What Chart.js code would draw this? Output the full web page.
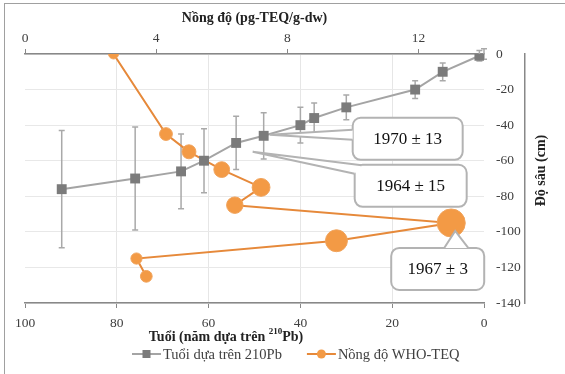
<!DOCTYPE html>
<html>
<head>
<meta charset="utf-8">
<script src="https://cdn.jsdelivr.net/npm/chart.js@4.4.1/dist/chart.umd.min.js"></script>
<style>
  html, body { margin: 0; padding: 0; background: #fff; }
  #wrap { position: relative; width: 565px; height: 374px; }
  #frame { position: absolute; left: 4px; top: 3px; right: 0; bottom: 0;
           border-top: 1.5px solid #a0a0a0; border-left: 1.5px solid #a0a0a0; }
  canvas { position: absolute; left: 0; top: 0; }
</style>
</head>
<body>
<div id="wrap"><div id="frame"></div><canvas id="chart" width="565" height="374"></canvas></div>
<script>
// Tuổi theo 210Pb (năm) vs độ sâu (cm), sai số theo độ sâu
const ageYears = [0, 1, 9, 15, 30, 37, 40, 48, 54, 61, 66, 76, 92];
const ageDepth = [0, -1, -10, -20, -30, -36, -40, -46, -50, -60, -66, -70, -76];
const ageErr = [3, 3, 5, 5, 7, 8.5, 10, 13, 15, 18, 21, 29, 33];

// Nồng độ WHO-TEQ (pg-TEQ/g-dw) vs độ sâu (cm)
const concValues = [2.7, 4.3, 5.0, 6.0, 7.2, 6.4, 13.0, 9.5, 3.4, 3.7];
const concDepth = [0, -45, -55, -65, -75, -85, -95, -105, -115, -125];

const ageTicks = [100, 80, 60, 40, 20, 0];
const concTicks = [0, 4, 8, 12];
const depthTicks = [0, -20, -40, -60, -80, -100, -120, -140];

const seriesNames = ['Tuổi dựa trên 210Pb', 'Nồng độ WHO-TEQ'];
const calloutTexts = ['1970 ± 13', '1964 ± 15', '1967 ± 3'];

const GRAY = '#7b7b7b';
const GRAY_LINE = '#a4a4a4';
const ORANGE = '#f39a45';
const ORANGE_LINE = '#e6893a';
const SERIF = "'Liberation Serif', 'Times New Roman', serif";

const errorBars = {
  id: 'errorBars',
  beforeDatasetsDraw(chart) {
    const { ctx, scales } = chart;
    ctx.save();
    ctx.strokeStyle = '#a9a9a9';
    ctx.lineWidth = 1.5;
    ageYears.forEach((a, i) => {
      const x = scales.x.getPixelForValue(a);
      const y1 = scales.y.getPixelForValue(ageDepth[i] + ageErr[i]);
      const y2 = scales.y.getPixelForValue(ageDepth[i] - ageErr[i]);
      ctx.beginPath();
      ctx.moveTo(x, y1); ctx.lineTo(x, y2);
      ctx.moveTo(x - 3, y1); ctx.lineTo(x + 3, y1);
      ctx.moveTo(x - 3, y2); ctx.lineTo(x + 3, y2);
      ctx.stroke();
    });
    ctx.restore();
  }
};

function roundRect(ctx, x, y, w, h, r) {
  ctx.beginPath();
  ctx.moveTo(x + r, y);
  ctx.lineTo(x + w - r, y); ctx.arcTo(x + w, y, x + w, y + r, r);
  ctx.lineTo(x + w, y + h - r); ctx.arcTo(x + w, y + h, x + w - r, y + h, r);
  ctx.lineTo(x + r, y + h); ctx.arcTo(x, y + h, x, y + h - r, r);
  ctx.lineTo(x, y + r); ctx.arcTo(x, y, x + r, y, r);
  ctx.closePath();
}

function drawCallout(ctx, tip, box, b1, b2, text) {
  ctx.save();
  ctx.fillStyle = '#fff';
  ctx.strokeStyle = '#b3b3b3';
  ctx.lineWidth = 2;
  roundRect(ctx, box.x, box.y, box.w, box.h, 8);
  ctx.fill(); ctx.stroke();
  ctx.beginPath();
  ctx.moveTo(b1.x, b1.y); ctx.lineTo(tip.x, tip.y); ctx.lineTo(b2.x, b2.y); ctx.closePath();
  ctx.fill();
  ctx.beginPath();
  ctx.moveTo(b1.x, b1.y); ctx.lineTo(tip.x, tip.y); ctx.lineTo(b2.x, b2.y);
  ctx.stroke();
  ctx.fillStyle = '#111';
  ctx.font = '17px ' + SERIF;
  ctx.textAlign = 'center';
  ctx.textBaseline = 'middle';
  ctx.fillText(text, box.x + box.w / 2, box.y + box.h / 2 + 1);
  ctx.restore();
}

const callouts = {
  id: 'callouts',
  afterDatasetsDraw(chart) {
    const { ctx, scales } = chart;
    const a = { x: scales.x.getPixelForValue(ageYears[7]), y: scales.y.getPixelForValue(ageDepth[7]) };
    const t1 = { x: a.x + 6, y: a.y - 1 };
    const bx1 = { x: t1.x + 83, y: t1.y - 17, w: 110, h: 42 };
    drawCallout(ctx, t1, bx1, { x: bx1.x, y: bx1.y + 12 }, { x: bx1.x, y: bx1.y + 22 }, calloutTexts[0]);

    const t2 = { x: a.x - 11, y: a.y + 16 };
    const bx2 = { x: t2.x + 102, y: t2.y + 13, w: 112, h: 42 };
    drawCallout(ctx, t2, bx2, { x: bx2.x + 7, y: bx2.y + 0.5 }, { x: bx2.x, y: bx2.y + 9 }, calloutTexts[1]);

    const b = { x: scales.x2.getPixelForValue(concValues[6]), y: scales.y.getPixelForValue(concDepth[6]) };
    const t3 = { x: b.x + 4, y: b.y + 8 };
    const bx3 = { x: t3.x - 64, y: t3.y + 17, w: 93, h: 42 };
    drawCallout(ctx, t3, bx3, { x: bx3.x + 53, y: bx3.y }, { x: bx3.x + 77, y: bx3.y }, calloutTexts[2]);
  }
};

// tiêu đề trục dưới (chỉ số trên ²¹⁰), tiêu đề trục phải và chú giải
const extraText = {
  id: 'extraText',
  afterDraw(chart) {
    const { ctx, chartArea } = chart;
    ctx.save();
    ctx.fillStyle = '#222';
    ctx.textBaseline = 'middle';
    // bottom title
    const big = 'bold 14px ' + SERIF, small = 'bold 9px ' + SERIF;
    const p1 = 'Tuổi (năm dựa trên ', p2 = '210', p3 = 'Pb)';
    ctx.font = big; const w1 = ctx.measureText(p1).width, w3 = ctx.measureText(p3).width;
    ctx.font = small; const w2 = ctx.measureText(p2).width;
    let x = 226 - (w1 + w2 + w3) / 2;
    const y = chartArea.bottom + 34;
    ctx.textAlign = 'left';
    ctx.font = big; ctx.fillText(p1, x, y); x += w1;
    ctx.font = small; ctx.fillText(p2, x, y - 5); x += w2;
    ctx.font = big; ctx.fillText(p3, x, y);
    // right title
    ctx.save();
    ctx.translate(541, (chartArea.top + chartArea.bottom) / 2 - 8);
    ctx.rotate(-Math.PI / 2);
    ctx.font = 'bold 14px ' + SERIF;
    ctx.textAlign = 'center';
    ctx.fillText('Độ sâu (cm)', 0, 0);
    ctx.restore();
    // legend
    const ly = chartArea.bottom + 51;
    ctx.font = '14.5px ' + SERIF;
    ctx.fillStyle = '#404040';
    let lx = 132;
    chart.data.datasets.forEach((ds, i) => {
      ctx.strokeStyle = ds.borderColor; ctx.lineWidth = 2;
      ctx.beginPath(); ctx.moveTo(lx, ly); ctx.lineTo(lx + 29, ly); ctx.stroke();
      ctx.fillStyle = ds.pointBackgroundColor;
      if (i === 0) { ctx.fillRect(lx + 10.5, ly - 4, 8, 8); }
      else { ctx.beginPath(); ctx.arc(lx + 14.5, ly, 4.5, 0, Math.PI * 2); ctx.fill(); }
      ctx.fillStyle = '#404040';
      ctx.fillText(ds.label, lx + 31, ly + 1);
      lx += 31 + ctx.measureText(ds.label).width + 25;
    });
    ctx.restore();
  }
};

const tickFont = { family: SERIF, size: 13.5 };
const titleFont = { family: SERIF, size: 14, weight: 'bold' };

new Chart(document.getElementById('chart'), {
  type: 'scatter',
  data: {
    datasets: [
      {
        label: seriesNames[0],
        data: ageYears.map((a, i) => ({ x: a, y: ageDepth[i] })),
        xAxisID: 'x', yAxisID: 'y',
        showLine: true,
        borderColor: GRAY_LINE,
        borderWidth: 2,
        backgroundColor: GRAY,
        pointBackgroundColor: GRAY,
        pointBorderColor: GRAY,
        pointStyle: 'rect',
        pointRadius: 7,
        pointBorderWidth: 0
      },
      {
        label: seriesNames[1],
        data: concValues.map((c, i) => ({ x: c, y: concDepth[i] })),
        xAxisID: 'x2', yAxisID: 'y',
        showLine: true,
        borderColor: ORANGE_LINE,
        borderWidth: 2,
        backgroundColor: ORANGE,
        pointBackgroundColor: ORANGE,
        pointBorderColor: '#f0a35c',
        pointBorderWidth: 1,
        pointRadius: ctx => 2.6 + 0.88 * (ctx.raw ? ctx.raw.x : 3)
      }
    ]
  },
  options: {
    responsive: false,
    animation: false,
    layout: { padding: { left: 25, right: 40, top: 4, bottom: 27 } },
    scales: {
      x: {
        type: 'linear', position: 'bottom', reverse: true, min: 0, max: 100,
        afterBuildTicks: s => { s.ticks = ageTicks.map(v => ({ value: v })); },
        afterFit: s => { s.height = 44; },
        ticks: { font: tickFont, color: '#404040', padding: 7, maxRotation: 0 },
        grid: {
          color: c => (c.tick && (c.tick.value === 0 || c.tick.value === 100)) ? 'rgba(0,0,0,0)' : '#e6e6e6',
          tickColor: '#888', tickLength: 5, lineWidth: 1
        },
        border: { color: '#888', width: 1.5 }
      },
      x2: {
        type: 'linear', position: 'top', min: 0, max: 14,
        afterBuildTicks: s => { s.ticks = concTicks.map(v => ({ value: v })); },
        afterFit: s => { s.height = 50; },
        ticks: { font: tickFont, color: '#404040', padding: 2, maxRotation: 0 },
        grid: { drawOnChartArea: false, tickColor: '#888', tickLength: 5 },
        border: { color: '#888', width: 1.5 },
        title: { display: true, text: 'Nồng độ (pg-TEQ/g-dw)', font: titleFont, color: '#222', padding: { top: 6, bottom: 0 } }
      },
      y: {
        type: 'linear', position: 'right', min: -140, max: 0,
        afterBuildTicks: s => { s.ticks = depthTicks.map(v => ({ value: v })); },
        afterFit: s => { s.width = 41; },
        ticks: { font: tickFont, color: '#404040', padding: 12 },
        grid: { color: '#e8e8e8', drawTicks: false },
        border: { display: false }
      },
      y2: {
        type: 'linear', position: 'right', min: -140, max: 0,
        ticks: { display: false },
        grid: { drawOnChartArea: false, drawTicks: false },
        border: { color: '#888', width: 1.5 },
        afterFit: s => { s.width = 0; }
      }
    },
    plugins: {
      tooltip: { enabled: false },
      legend: { display: false }
    }
  },
  plugins: [errorBars, callouts, extraText]
});
</script>
</body>
</html>
